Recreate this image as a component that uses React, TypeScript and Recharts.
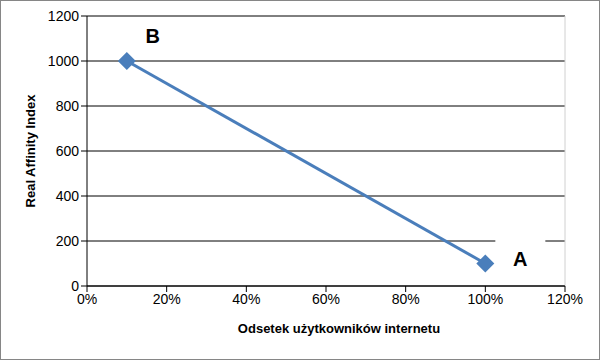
import {
  ScatterChart,
  Scatter,
  XAxis,
  YAxis,
  CartesianGrid,
  ReferenceLine,
  LabelList
} from 'recharts';

const shares = [0.1, 1.0];
const affinity = [1000, 100];
const pointNames = ['B', 'A'];
const xTicks = [0, 0.2, 0.4, 0.6, 0.8, 1.0, 1.2];
const yTicks = [0, 200, 400, 600, 800, 1000, 1200];

const data = shares.map((s, i) => ({ x: s, y: affinity[i], name: pointNames[i] }));

const FONT = '"Liberation Sans", Arial, sans-serif';
const BLUE = '#4a7ebb';

const Diamond = (props: any) => {
  const { cx, cy } = props;
  const r = 9;
  return (
    <polygon
      points={`${cx},${cy - r} ${cx + r},${cy} ${cx},${cy + r} ${cx - r},${cy}`}
      fill={BLUE}
    />
  );
};

const PointLabel = (props: any) => {
  const { x, y, width, height, value } = props;
  const cx = x + (width || 0) / 2;
  const cy = y + (height || 0) / 2;
  // B sits above-right, A sits to the right with a white box behind it
  const dx = value === 'B' ? 26 : 35;
  const dy = value === 'B' ? -25 : -5;
  return (
    <g>
      {value === 'A' && (
        <rect x={cx + dx - 25} y={cy + dy - 25} width={50} height={42} fill='#fff' />
      )}
      <text
        x={cx + dx}
        y={cy + dy}
        textAnchor='middle'
        dominantBaseline='central'
        fontFamily={FONT}
        fontWeight='bold'
        fontSize={20}
        fill='#000'
      >
        {value}
      </text>
    </g>
  );
};

const App = () => (
  <div style={{ position: 'absolute', left: 0, top: 0, width: 600, height: 360, background: '#fff' }}>
    <ScatterChart
      width={600}
      height={360}
      margin={{ top: 16, right: 35, left: 27, bottom: 24 }}
    >
      <CartesianGrid vertical={false} stroke='#000' strokeWidth={1} />
      <XAxis
        type='number'
        dataKey='x'
        domain={[0, 1.2]}
        ticks={xTicks}
        tickFormatter={(v: number) => `${Math.round(v * 100)}%`}
        height={50}
        stroke='#000'
        tickSize={6}
        tick={{ fill: '#000', fontSize: 14, fontFamily: FONT }}
        label={{
          value: 'Odsetek użytkowników internetu',
          position: 'center',
          dx: 13,
          dy: 17,
          style: { fontFamily: FONT, fontWeight: 'bold', fontSize: 13, fill: '#000' }
        }}
      />
      <YAxis
        type='number'
        dataKey='y'
        domain={[0, 1200]}
        ticks={yTicks}
        width={60}
        stroke='#000'
        tickSize={6}
        tick={{ fill: '#000', fontSize: 14, fontFamily: FONT }}
        label={{
          value: 'Real Affinity Index',
          angle: -90,
          position: 'center',
          dx: -27,
          style: { fontFamily: FONT, fontWeight: 'bold', fontSize: 13, fill: '#000', textAnchor: 'middle' }
        }}
      />
      <ReferenceLine x={1.2} stroke='#d0d0d0' />
      <Scatter
        data={data}
        fill={BLUE}
        shape={Diamond}
        line={{ stroke: BLUE, strokeWidth: 3 }}
        lineType='joint'
        isAnimationActive={false}
      >
        <LabelList dataKey='name' content={PointLabel} />
      </Scatter>
    </ScatterChart>
    <div
      style={{
        position: 'absolute',
        left: 0,
        top: 0,
        width: 600,
        height: 360,
        boxSizing: 'border-box',
        border: '1px solid #868686',
        pointerEvents: 'none'
      }}
    />
  </div>
);

export default App;
